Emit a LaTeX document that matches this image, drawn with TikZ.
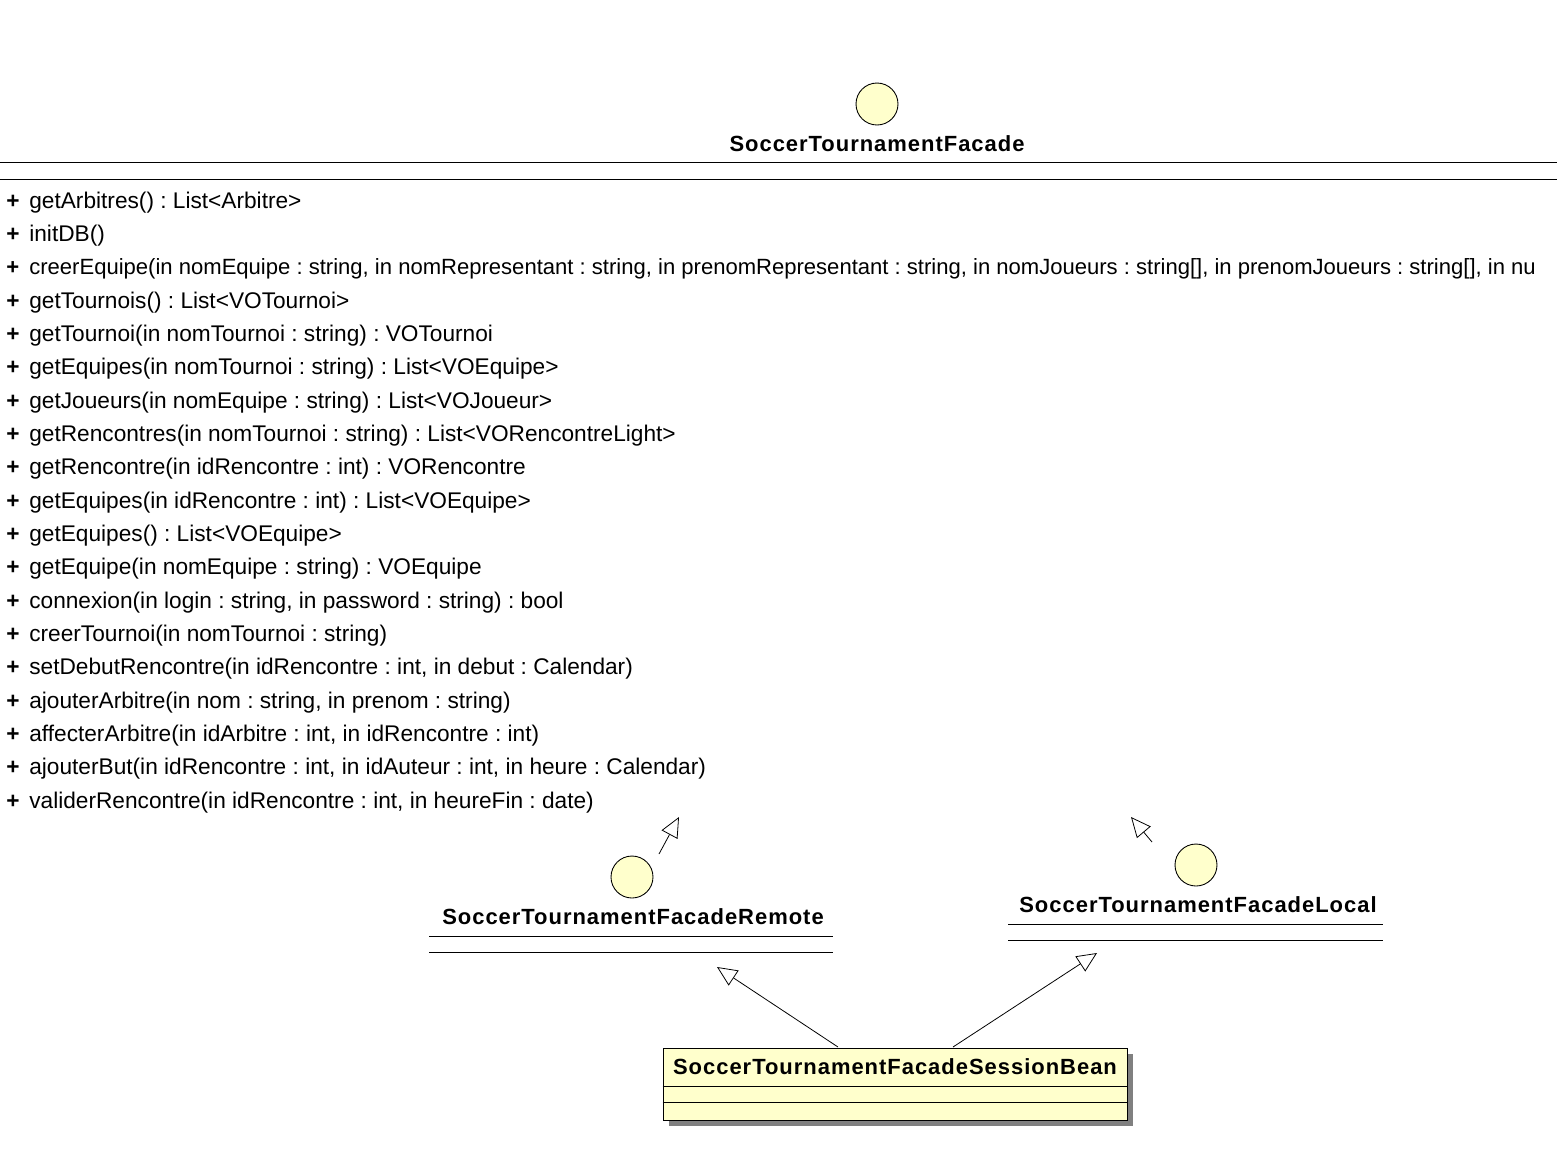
\documentclass[tikz,border=0pt]{standalone}
\usepackage{fontspec}
\setmainfont{Liberation Sans}
\newfontfamily\umltitle[LetterSpace=4.5]{Liberation Sans}
\usetikzlibrary{arrows.meta,positioning}
\frenchspacing

\definecolor{umlyellow}{RGB}{255,255,204}
\definecolor{umlshadow}{RGB}{128,128,128}

\tikzset{
  iface/.style={circle,draw,fill=umlyellow,minimum size=0.84cm,inner sep=0pt,line width=0.5pt},
  ctitle/.style={font=\umltitle\bfseries\fontsize{12.5}{14}\selectfont,inner sep=0pt},
  meth/.style={anchor=base west,inner sep=0pt,font=\fontsize{12.9}{15}\selectfont},
  gen/.style={-{Triangle[open,length=0.4cm,width=0.36cm]},line width=0.45pt},
  sep/.style={line width=0.5pt}
}
\newcommand{\vis}{\makebox[0.46cm][l]{\bfseries +}}

\begin{document}
\begin{tikzpicture}
\useasboundingbox (0,0) rectangle (31.14,-23.28);
%facade interface
\node[iface] (facadeicon) at (17.54,-2.08) {};
\node[ctitle] (facade) at (17.54,-2.88) {SoccerTournamentFacade};
\draw[sep] (0,-3.24)--(31.14,-3.24);
\draw[sep] (0,-3.58)--(31.14,-3.58);
%methods
\node[meth] (m1) at (0.12,-4.16) {\vis getArbitres() : List<Arbitre>};
\node[meth] (m2) at (0.12,-4.827) {\vis initDB()};
\node[meth,font=\fontsize{12.55}{15}\selectfont] (m3) at (0.12,-5.493) {\vis creerEquipe(in nomEquipe : string, in nomRepresentant : string, in prenomRepresentant : string, in nomJoueurs : string[], in prenomJoueurs : string[], in nu};
\node[meth] (m4) at (0.12,-6.16) {\vis getTournois() : List<VOTournoi>};
\node[meth] (m5) at (0.12,-6.827) {\vis getTournoi(in nomTournoi : string) : VOTournoi};
\node[meth] (m6) at (0.12,-7.493) {\vis getEquipes(in nomTournoi : string) : List<VOEquipe>};
\node[meth] (m7) at (0.12,-8.16) {\vis getJoueurs(in nomEquipe : string) : List<VOJoueur>};
\node[meth] (m8) at (0.12,-8.827) {\vis getRencontres(in nomTournoi : string) : List<VORencontreLight>};
\node[meth] (m9) at (0.12,-9.493) {\vis getRencontre(in idRencontre : int) : VORencontre};
\node[meth] (m10) at (0.12,-10.16) {\vis getEquipes(in idRencontre : int) : List<VOEquipe>};
\node[meth] (m11) at (0.12,-10.827) {\vis getEquipes() : List<VOEquipe>};
\node[meth] (m12) at (0.12,-11.493) {\vis getEquipe(in nomEquipe : string) : VOEquipe};
\node[meth] (m13) at (0.12,-12.16) {\vis connexion(in login : string, in password : string) : bool};
\node[meth] (m14) at (0.12,-12.827) {\vis creerTournoi(in nomTournoi : string)};
\node[meth] (m15) at (0.12,-13.493) {\vis setDebutRencontre(in idRencontre : int, in debut : Calendar)};
\node[meth] (m16) at (0.12,-14.16) {\vis ajouterArbitre(in nom : string, in prenom : string)};
\node[meth] (m17) at (0.12,-14.827) {\vis affecterArbitre(in idArbitre : int, in idRencontre : int)};
\node[meth] (m18) at (0.12,-15.493) {\vis ajouterBut(in idRencontre : int, in idAuteur : int, in heure : Calendar)};
\node[meth] (m19) at (0.12,-16.16) {\vis validerRencontre(in idRencontre : int, in heureFin : date)};
%remote interface
\node[iface] (remoteicon) at (12.64,-17.54) {};
\node[ctitle] (remote) at (12.66,-18.34) {SoccerTournamentFacadeRemote};
\draw[sep] (8.58,-18.72)--(16.66,-18.72);
\draw[sep] (8.58,-19.04)--(16.66,-19.04);
%local interface
\node[iface] (localicon) at (23.92,-17.30) {};
\node[ctitle] (local) at (23.96,-18.10) {SoccerTournamentFacadeLocal};
\draw[sep] (20.16,-18.48)--(27.66,-18.48);
\draw[sep] (20.16,-18.80)--(27.66,-18.80);
%session bean
\fill[umlshadow] (13.38,-21.08) rectangle (22.66,-22.52);
\node[draw,fill=umlyellow,line width=0.5pt,minimum width=9.28cm,minimum height=1.44cm,inner sep=0pt] (bean) at (17.90,-21.68) {};
\node[ctitle] (beantitle) at (17.90,-21.34) {SoccerTournamentFacadeSessionBean};
\draw[sep] (bean.west |- 0,-21.72)--(bean.east |- 0,-21.72);
\draw[sep] (bean.west |- 0,-22.04)--(bean.east |- 0,-22.04);
%generalizations
\coordinate (beanleft) at (16.76,-20.94);
\coordinate (beanright) at (19.06,-20.94);
\coordinate (remotetip) at (14.34,-19.34);
\coordinate (localtip) at (21.94,-19.06);
\coordinate (remotefrom) at (13.18,-17.08);
\coordinate (facadetipa) at (13.58,-16.34);
\coordinate (localfrom) at (23.04,-16.84);
\coordinate (facadetipb) at (22.62,-16.34);
\draw[gen] (beanleft)--(remotetip);
\draw[gen] (beanright)--(localtip);
\draw[gen] (remotefrom)--(facadetipa);
\draw[gen] (localfrom)--(facadetipb);
\end{tikzpicture}
\end{document}
